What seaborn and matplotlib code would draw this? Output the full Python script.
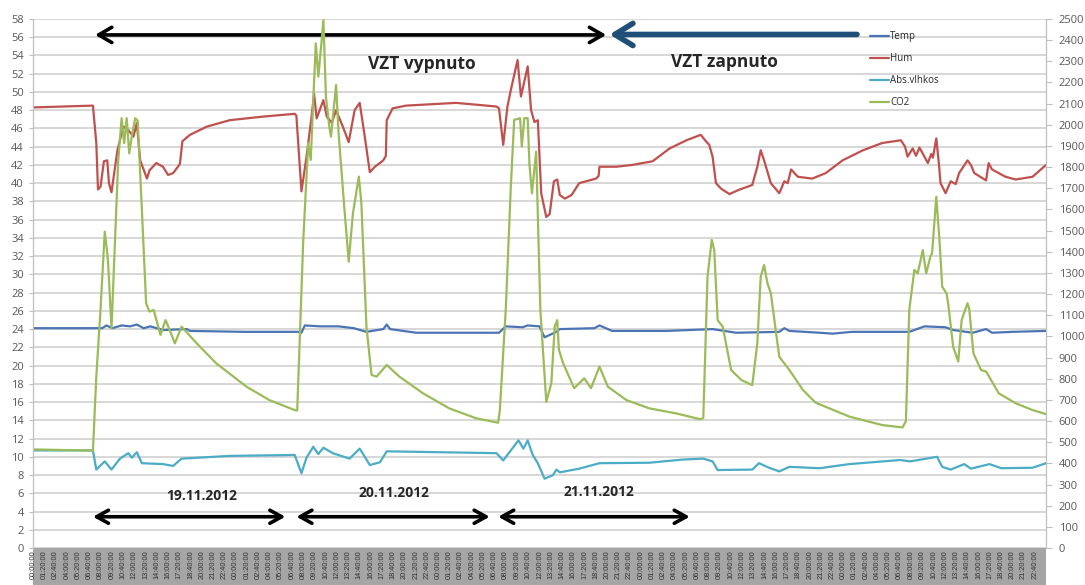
import matplotlib
matplotlib.use("Agg")
import matplotlib.pyplot as plt
from matplotlib.patches import Rectangle
import numpy as np
import pandas as pd
import seaborn as sns

# Time axis in hours from 19.11.2012 00:00
TEMP_T = [0, 7.1, 8.2, 8.7, 9.4, 10.5, 11.5, 12.3, 13.1, 13.9, 15.4, 18.2, 18.6, 25, 31.4, 31.8,
          32.2, 34, 36.2, 38, 39.5, 41.5, 41.9, 42.3, 45.4, 55.2, 56.0, 58, 58.6, 60.0, 60.6, 62.0,
          62.4, 66.5, 67.1, 68.6, 75, 80.5, 83.3, 88.4, 89.0, 89.6, 93.2, 94.7, 97, 103.8, 105.6,
          108.1, 109, 111.3, 112.9, 113.6, 116, 120]
TEMP_V = [24.1, 24.1, 24.1, 24.4, 24.1, 24.4, 24.3, 24.5, 24.1, 24.3, 23.9, 24.0, 23.8, 23.7, 23.7, 23.6,
          24.4, 24.3, 24.3, 24.1, 23.7, 24.0, 24.5, 24.0, 23.6, 23.6, 24.3, 24.2, 24.4, 24.3, 23.1, 23.7,
          24.0, 24.1, 24.4, 23.8, 23.8, 24.0, 23.6, 23.7, 24.1, 23.8, 23.6, 23.5, 23.7, 23.7, 24.3,
          24.2, 23.9, 23.6, 24.0, 23.6, 23.7, 23.8]

HUM_T = [0, 7.1, 7.5, 7.7, 8.0, 8.4, 8.8, 9.0, 9.3, 10.0, 10.3, 10.7, 11.3, 11.9, 12.3, 12.7, 13.5,
         13.8, 14.6, 15.4, 16.0, 16.6, 17.4, 17.7, 18.6, 20.6, 23.3, 27.3, 31.0, 31.2, 31.8, 32.4,
         33.0, 33.3, 33.6, 34.4, 34.8, 35.4, 35.9, 36.7, 37.4, 38.1, 38.7, 39.3, 39.9, 40.5, 41.5,
         41.8, 41.9, 42.6, 44.2, 50.1, 54.9, 55.2, 55.7, 56.2, 56.6, 57.4, 57.8, 58.6, 59.0, 59.4,
         59.8, 60.2, 60.8, 61.2, 61.7, 62.1, 62.4, 63.0, 63.8, 64.7, 65.5, 66.7, 67.0, 67.1, 69.1,
         71.0, 73.4, 75.4, 77.4, 79.1, 79.7, 80.1, 80.5, 80.9, 81.5, 82.5, 83.7, 85.2, 85.8, 86.2,
         86.6, 87.4, 88.4, 89.0, 89.4, 89.8, 90.6, 92.3, 93.9, 95.9, 98.3, 100.6, 102.8, 103.3,
         103.6, 104.2, 104.6, 105.0, 105.6, 106.0, 106.4, 106.6, 107.0, 107.3, 107.5, 108.1, 108.7,
         109.3, 109.7, 110.7, 111.1, 111.5, 112.9, 113.2, 113.6, 115.2, 116.4, 118.4, 120.0]
HUM_V = [48.3, 48.5, 44.4, 39.3, 39.6, 42.4, 42.5, 40.0, 39.0, 43.6, 44.7, 46.2, 45.8, 45.1, 46.6, 42.5, 40.5,
         41.4, 42.2, 41.8, 40.9, 41.1, 42.1, 44.6, 45.3, 46.2, 46.9, 47.3, 47.6, 47.4, 39.1, 42.9,
         47.3, 49.8, 47.1, 49.1, 47.3, 46.6, 48.0, 46.2, 44.5, 48.0, 48.8, 45.1, 41.2, 41.8, 42.5,
         43.0, 46.9, 48.2, 48.5, 48.8, 48.4, 48.2, 44.2, 48.4, 50.2, 53.5, 49.5, 52.8, 48.0, 46.7,
         46.9, 38.9, 36.3, 36.6, 40.2, 40.4, 38.7, 38.3, 38.7, 40.0, 40.2, 40.5, 40.8, 41.8, 41.8,
         42.0, 42.4, 43.8, 44.7, 45.3, 44.6, 44.2, 42.9, 40.0, 39.4, 38.8, 39.3, 39.8, 41.8, 43.6,
         42.5, 40.0, 38.9, 40.2, 40.0, 41.5, 40.7, 40.5, 41.1, 42.5, 43.6, 44.4, 44.7, 44.0,
         42.9, 43.8, 43.0, 43.9, 42.9, 42.2, 43.2, 42.8, 44.9, 42.2, 40.0, 38.9, 40.2,
         39.9, 41.1, 42.5, 42.0, 41.1, 40.3, 42.2, 41.5, 40.7, 40.4, 40.7, 42.0]

ABS_T = [0, 7.1, 7.5, 8.5, 9.3, 10.3, 11.3, 11.7, 12.3, 12.9, 15.4, 16.6, 17.6, 23.3, 31.0, 31.8,
         32.4, 33.2, 33.8, 34.4, 35.5, 37.5, 38.7, 39.9, 41.1, 41.9, 54.9, 55.7, 57.5, 58.1, 58.6,
         59.2, 59.8, 60.6, 61.6, 62.0, 62.4, 64.7, 67.1, 73.0, 77.0, 79.4, 80.5, 81.1, 85.2, 86.0,
         87.2, 88.4, 89.6, 93.2, 96.7, 102.7, 103.9, 107.1, 107.7, 108.7, 110.3, 111.1, 113.3,
         114.7, 118.4, 120]
ABS_V = [10.7, 10.7, 8.6, 9.5, 8.6, 9.8, 10.4, 9.9, 10.5, 9.3, 9.2, 9.0, 9.8, 10.1, 10.2, 8.2,
         9.9, 11.1, 10.3, 11.0, 10.4, 9.8, 10.9, 9.1, 9.4, 10.6, 10.4, 9.6, 11.8, 10.9, 11.8,
         10.2, 9.3, 7.6, 8.0, 8.6, 8.3, 8.7, 9.3, 9.35, 9.7, 9.8, 9.5, 8.55, 8.6, 9.3,
         8.8, 8.4, 8.9, 8.75, 9.2, 9.65, 9.5, 10.0, 8.9, 8.6, 9.2, 8.7, 9.2,
         8.75, 8.8, 9.3]

CO2_T = [0, 7.1, 7.5, 8.0, 8.5, 8.8, 8.9, 9.3, 9.7, 10.1, 10.5, 10.8, 11.1, 11.4, 11.7, 12.1, 12.4,
         12.9, 13.4, 13.8, 14.3, 15.1, 15.7, 16.2, 16.8, 17.6, 19.4, 21.7, 25.3, 28.0, 31.0, 31.3,
         32.0, 32.6, 32.9, 33.2, 33.5, 33.8, 34.2, 34.4, 34.7, 35.1, 35.3, 35.9, 36.2, 36.9, 37.4,
         37.9, 38.6, 38.9, 39.5, 40.1, 40.7, 41.9, 43.4, 46.2, 49.3, 52.5, 55.1, 55.3, 56.0, 56.6,
         57.0, 57.7, 57.9, 58.2, 58.6, 58.8, 59.1, 59.6, 60.1, 60.8, 61.4, 61.8, 62.1, 62.3, 62.8,
         64.1, 65.3, 66.1, 67.1, 68.1, 70.3, 73.0, 76.2, 79.1, 79.4, 79.9, 80.4, 80.7, 81.1, 81.7,
         82.7, 83.9, 85.2, 85.8, 86.2, 86.6, 87.0, 87.4, 88.4, 89.6, 91.2, 92.7, 96.7, 100.6, 103.0,
         103.4, 103.8, 104.4, 104.8, 105.4, 105.8, 106.3, 106.5, 107.0, 107.4, 107.7, 108.2, 108.4,
         109.0, 109.6, 110.0, 110.7, 110.9, 111.4, 112.3, 112.9, 114.4, 116.4, 118.4, 120]
CO2_V = [466, 460, 810, 1125, 1495, 1393, 1345, 1038, 1440, 1834, 2031, 1913, 2031, 1865, 1944, 2031, 2020,
         1597, 1157, 1117, 1125, 1007, 1077, 1030, 967, 1046, 967, 873, 762, 699, 652, 650,
         1440, 1913, 1834, 2117, 2385, 2227, 2401, 2495, 2133, 1991, 1944, 2188, 1960, 1597, 1353,
         1582, 1755, 1629, 1046, 818, 810, 865, 810, 731, 660, 613, 592, 652, 1125, 1707,
         2023, 2031, 1897, 2031, 2031, 1818, 1676, 1873, 1125, 691, 778, 1046, 1077, 936, 873,
         755, 802, 755, 857, 762, 699, 660, 636, 608, 615, 1282, 1456, 1408, 1077, 1046,
         841, 794, 770, 967, 1282, 1337, 1251, 1204, 904, 841, 747, 687, 621, 581, 570,
         600, 1125, 1314, 1298, 1408, 1298, 1377, 1393, 1660, 1440, 1235, 1204, 1157,
         951, 881, 1077, 1157, 1130, 920, 841, 834, 731, 684, 652, 633]

SERIES_NAMES = ["Temp", "Hum", "Abs.vlhkos", "CO2"]
COLORS = ["#4a74b4", "#c0504d", "#4bacc6", "#9bbb59"]

# x tick every 80 minutes over five days
TICK_POS = np.arange(90) * 80 / 60
TICK_LABELS = pd.date_range("2012-11-19", periods=90, freq="80min").strftime("%H:%M:%S")

sns.set_style("white")
plt.rcParams['font.family'] = ['Open Sans', 'DejaVu Sans']

fig = plt.figure(figsize=(10.85, 5.85), dpi=100)
ax = fig.add_axes([0.0304, 0.0632, 0.9337, 0.9044])
ax2 = ax.twinx()

sns.lineplot(x=TEMP_T, y=TEMP_V, ax=ax, color=COLORS[0], lw=1.6, estimator=None, label=SERIES_NAMES[0], legend=False)
sns.lineplot(x=HUM_T, y=HUM_V, ax=ax, color=COLORS[1], lw=1.6, estimator=None, label=SERIES_NAMES[1], legend=False)
sns.lineplot(x=ABS_T, y=ABS_V, ax=ax, color=COLORS[2], lw=1.6, estimator=None, label=SERIES_NAMES[2], legend=False)
sns.lineplot(x=CO2_T, y=CO2_V, ax=ax2, color=COLORS[3], lw=1.6, estimator=None, label=SERIES_NAMES[3], legend=False)

ax.set_xlim(0, 120)
ax.set_ylim(0, 58)
ax2.set_ylim(0, 2500)
ax.set_yticks(np.arange(0, 59, 2))
ax2.set_yticks(np.arange(0, 2501, 100))
ax.set_xticks(TICK_POS)
ax.set_xticklabels(TICK_LABELS, rotation=90, fontsize=5.3, color="#303030",
                   family="Liberation Sans", va="top", ha="center")
ax.tick_params(axis="x", length=0, pad=1.5)
ax.tick_params(axis="y", labelsize=8, labelcolor="#595959", length=3, color="#bfbfbf", left=True)
ax2.tick_params(axis="y", labelsize=8, labelcolor="#595959", length=4, color="#bfbfbf", right=True, pad=5)
ax.set_xlabel("")
ax.set_ylabel("")
ax2.set_ylabel("")

ax.grid(axis="y", color="#d4d4d4", lw=1.3)
ax.grid(axis="x", visible=False)
ax2.grid(False)
for a in (ax, ax2):
    a.spines["top"].set_visible(False)
    a.spines["bottom"].set_visible(False)
    a.spines["left"].set_color("#bfbfbf")
    a.spines["right"].set_color("#bfbfbf")

# gray band behind the time labels
fig.patches.append(Rectangle((0.0304, 0.0), 0.9337, 0.0632, transform=fig.transFigure,
                             facecolor="#a5a5a5", edgecolor="none", zorder=-1))

# legend of both axes
h1, l1 = ax.get_legend_handles_labels()
h2, l2 = ax2.get_legend_handles_labels()
ax2.legend(h1 + h2, l1 + l2, loc="upper left", bbox_to_anchor=(0.822, 0.984), frameon=False,
           fontsize=7, handlelength=2.0, handletextpad=0.1, labelspacing=1.12, borderaxespad=0)

# annotations
ax.annotate("", xy=(67.9, 56.25), xytext=(7.35, 56.25),
            arrowprops=dict(arrowstyle="<->,head_length=0.95,head_width=0.55", lw=2.6,
                            color="black", shrinkA=0, shrinkB=0))
ax.annotate("", xy=(68.3, 56.3), xytext=(97.6, 56.3),
            arrowprops=dict(arrowstyle="->,head_length=1.3,head_width=0.8", lw=4,
                            color="#1f4e79", shrinkA=0, shrinkB=0))
ax.text(46.1, 53.1, "VZT vypnuto", ha="center", va="center", fontsize=12.5, fontweight="bold")
ax.text(81.9, 53.3, "VZT zapnuto", ha="center", va="center", fontsize=12.5, fontweight="bold")

day_arrows = [(7.1, 29.9, "19.11.2012", 20.0, 5.7),
              (31.2, 54.1, "20.11.2012", 42.8, 6.05),
              (55.1, 77.8, "21.11.2012", 67.0, 6.1)]
for x0, x1, label, tx, ty in day_arrows:
    ax.annotate("", xy=(x1, 3.43), xytext=(x0, 3.43),
                arrowprops=dict(arrowstyle="<->,head_length=0.85,head_width=0.47", lw=2.6,
                                color="black", shrinkA=0, shrinkB=0))
    ax.text(tx, ty, label, ha="center", va="center", fontsize=10, fontweight="bold")

fig.savefig("out.png", dpi=100)
